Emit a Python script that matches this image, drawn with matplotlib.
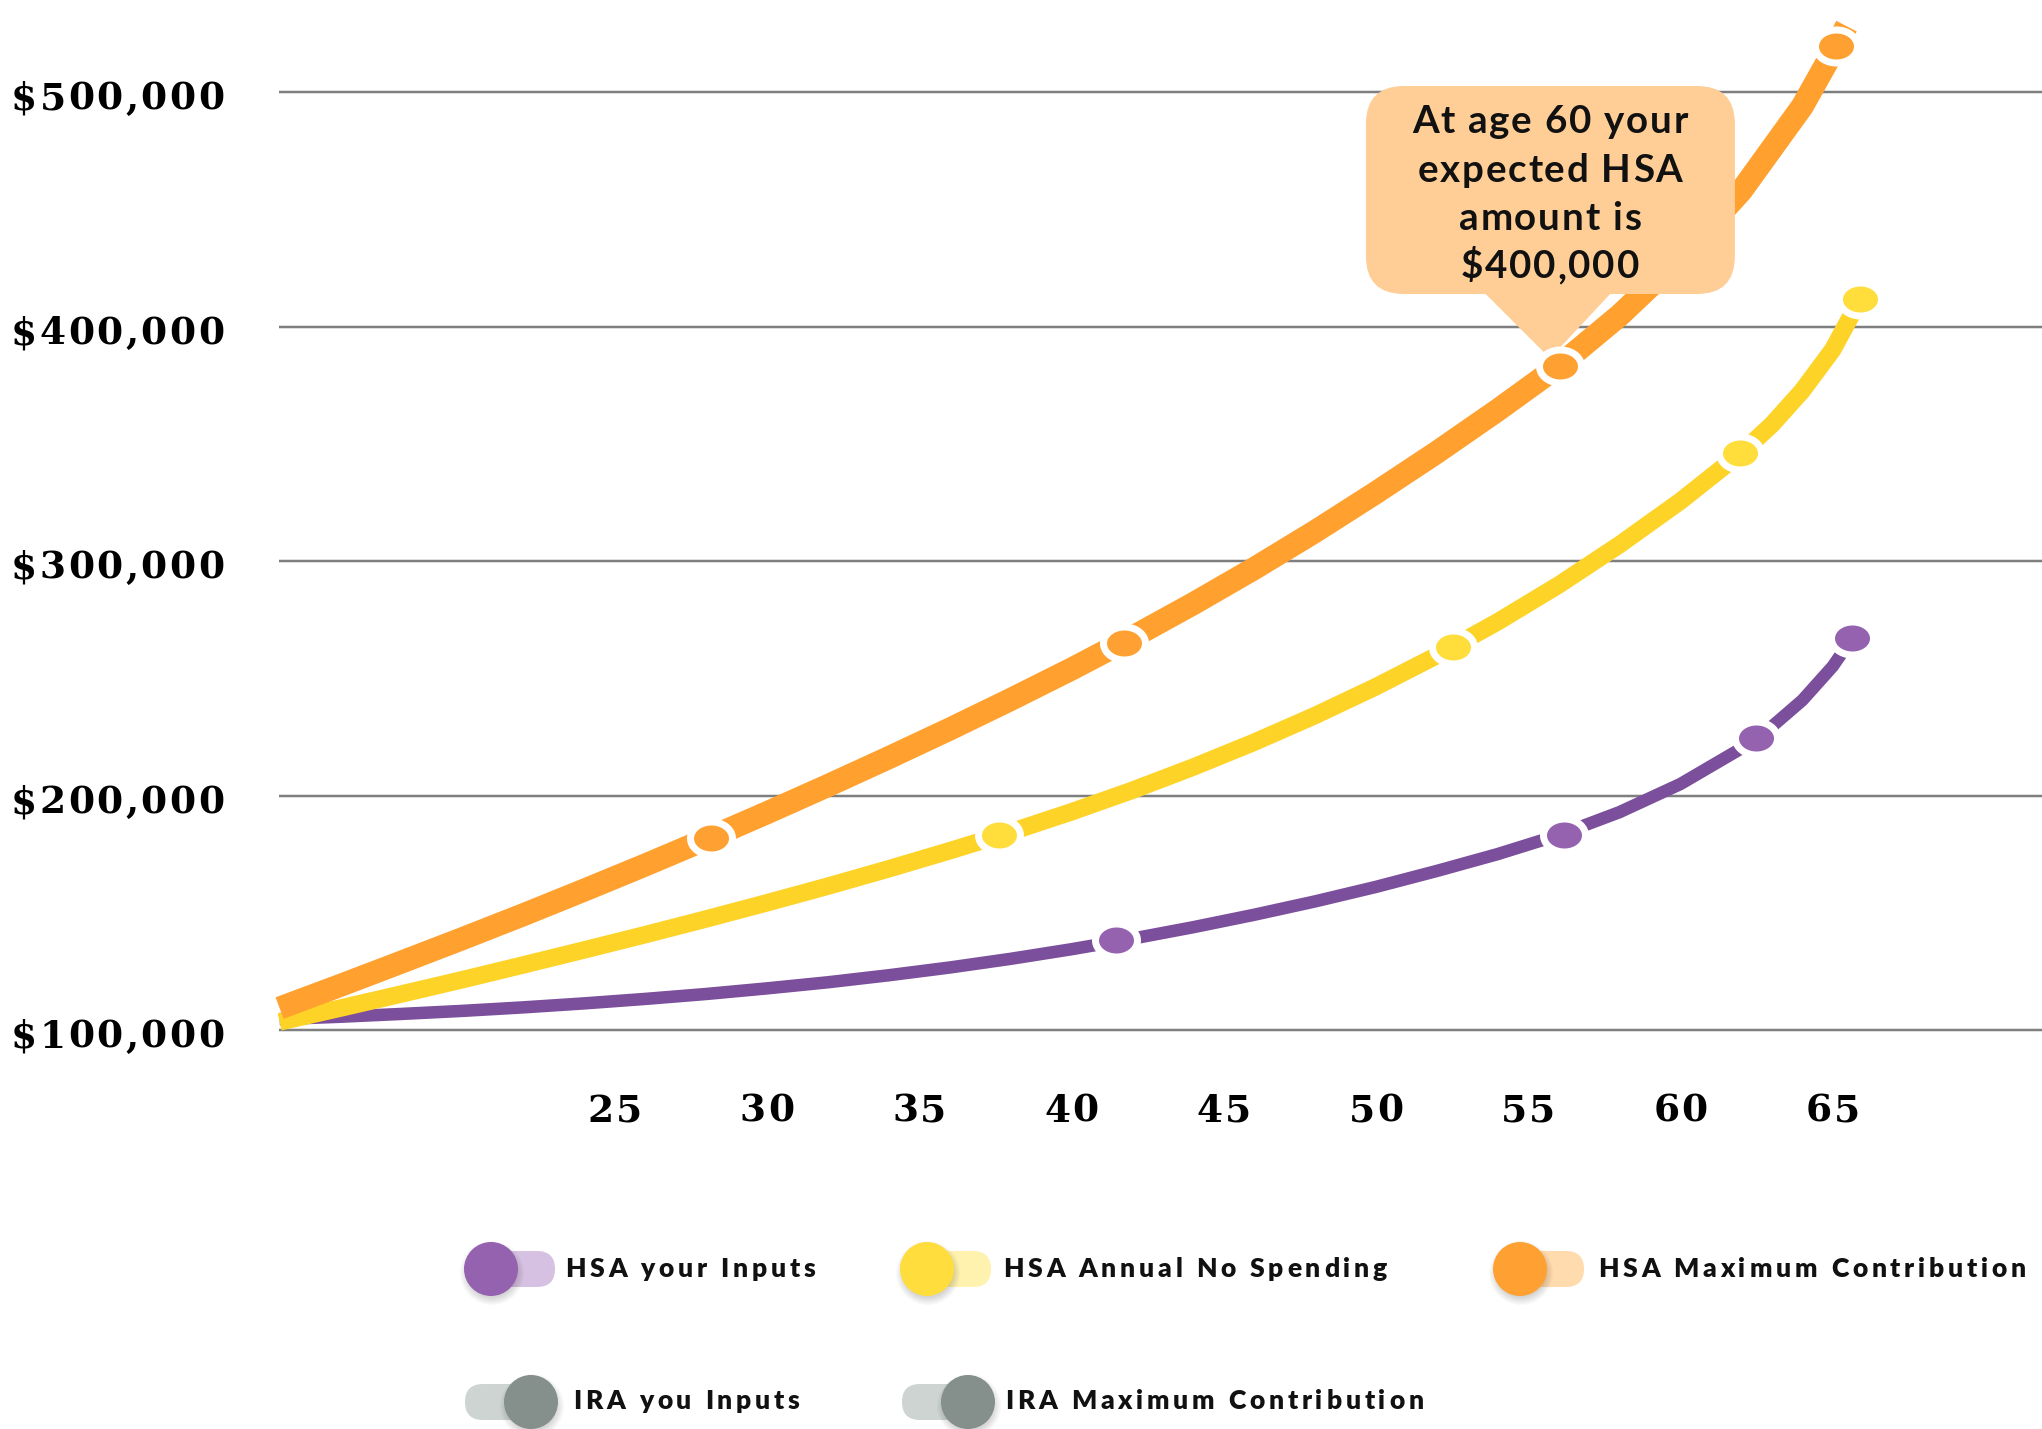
import numpy as np
import matplotlib
matplotlib.use("Agg")
import matplotlib.pyplot as plt
from matplotlib.path import Path
from matplotlib.patches import FancyBboxPatch, Polygon, Circle
from matplotlib.transforms import IdentityTransform
from matplotlib.font_manager import FontProperties, findfont
from matplotlib.ft2font import FT2Font

W, H, DPI = 2042, 1429, 100

# ---------------------------------------------------------------- data (values in $)
# HSA Maximum Contribution
max_age = [14, 16, 18, 20, 22, 24, 26, 28, 30, 32, 34, 36, 38, 40, 42, 44, 46, 48, 50,
           52, 54, 56, 58, 60, 62, 64, 65.11, 65.45]
max_val = [109400, 119100, 129000, 139000, 149200, 159700, 170400, 181400, 192700, 204300,
           216200, 228400, 241000, 254000, 267600, 281900, 296900, 312700, 329300, 346500,
           364500, 383300, 404900, 429500, 458100, 494100, 519800, 528300]
max_mark_age = [28.16, 41.73, 56.04, 65.11]
max_mark_val = [182000, 265100, 383300, 519800]

# HSA Annual No Spending
nospend_age = [14, 16, 18, 20, 22, 24, 26, 28, 30, 32, 34, 36, 38, 40, 42, 44, 46, 48, 50,
               52, 54, 56, 58, 60, 62, 63, 64, 65, 65.9]
nospend_val = [103500, 109400, 115400, 121500, 127800, 134200, 140700, 147400, 154300,
               161400, 168800, 176500, 184500, 193100, 202300, 212200, 222800, 234200,
               246500, 259800, 274200, 289900, 307100, 325700, 346300, 358300, 372800,
               390300, 411900]
nospend_mark_age = [37.62, 52.53, 61.96, 65.9]
nospend_mark_val = [183200, 263400, 346200, 411900]

# HSA your Inputs
inputs_age = [14, 16, 18, 20, 22, 24, 26, 28, 30, 32, 34, 36, 38, 40, 42, 44, 46, 48, 50,
              52, 54, 56, 58, 60, 62, 63, 64, 65, 65.64]
inputs_val = [104700, 105700, 106900, 108200, 109700, 111400, 113300, 115400, 117800,
              120400, 123400, 126700, 130400, 134500, 139000, 143900, 149200, 154900,
              161100, 167900, 175100, 183200, 193000, 205000, 220200, 229500, 240700,
              255200, 267300]
inputs_mark_age = [41.47, 56.17, 62.48, 65.64]
inputs_mark_val = [138400, 183300, 224600, 267300]

y_ticks = [100000, 200000, 300000, 400000, 500000]
x_ticks = [25, 30, 35, 40, 45, 50, 55, 60, 65]

callout_age, callout_val = 56.04, 383300
callout_lines = ["At age 60 your", "expected HSA", "amount is", "$400,000"]

legend_row1 = ["HSA your Inputs", "HSA Annual No Spending", "HSA Maximum Contribution"]
legend_row2 = ["IRA you Inputs", "IRA Maximum Contribution"]

# ---------------------------------------------------------------- style
ORANGE, ORANGE_MK = "#FFA02F", "#FFA132"
YELLOW, YELLOW_MK = "#FDD328", "#FFDD3A"
PURPLE, PURPLE_MK = "#7B4F9B", "#9562AF"
PEACH = "#FECE96"
GRID = "#7F7F7F"

serif = FontProperties(family="DejaVu Serif", weight="bold")
sans = FontProperties(family="Lato", weight="bold")
sans_heavy = FontProperties(family="Lato", weight="heavy")

fig = plt.figure(figsize=(W / DPI, H / DPI), dpi=DPI)
fig.patch.set_facecolor("white")
ax = fig.add_axes([279 / W, 1 - 1040 / H, (W - 279) / W, 1040 / H])
ax.set_xlim(13.98, 71.87)
ax.set_ylim(95780, 539440)
ax.axis("off")

PX = 72.0 / DPI  # points per pixel


def tracked(x, y, s, fp, size_px, tracking=0.0, ha="left", color="black", zorder=5):
    """Draw text at display pixel (x, y baseline) with extra letter spacing."""
    font = FT2Font(findfont(fp))
    font.set_size(size_px, 72)
    adv = [font.load_char(ord(c)).linearHoriAdvance / 65536.0 for c in s]
    total = sum(adv) + tracking * (len(s) - 1)
    if ha == "center":
        pos = x - total / 2
    elif ha == "right":
        pos = x - total
    else:
        pos = x
    for c, a in zip(s, adv):
        if c != " ":
            fig.text(pos, y, c, transform=IdentityTransform(), fontproperties=fp,
                     fontsize=size_px * PX, ha="left", va="baseline", color=color,
                     zorder=zorder)
        pos += a + tracking


# grid
ax.hlines(y_ticks, 13.98, 71.87, colors=GRID, lw=2.5 * PX, zorder=1)

# elliptical markers with a white ring
t = np.linspace(0, 2 * np.pi, 73)
ell = Path(np.column_stack([np.cos(t), 0.786 * np.sin(t)]), closed=True)

series = [
    (inputs_age, inputs_val, inputs_mark_age, inputs_mark_val, PURPLE, PURPLE_MK, 12.5),
    (nospend_age, nospend_val, nospend_mark_age, nospend_mark_val, YELLOW, YELLOW_MK, 17.5),
    (max_age, max_val, max_mark_age, max_mark_val, ORANGE, ORANGE_MK, 23.0),
]
for i, (xa, ya, mx, my, col, mcol, lw) in enumerate(series):
    ax.plot(xa, ya, color=col, lw=lw * PX, solid_capstyle="butt",
            solid_joinstyle="round", zorder=2 + i * 0.1, clip_on=False)
for i, (xa, ya, mx, my, col, mcol, lw) in enumerate(series):
    ax.plot(mx, my, ls="none", marker=ell, ms=42 * PX, mfc=mcol, mec="white",
            mew=7 * PX, zorder=4 + i * 0.1, clip_on=False)

# y tick labels
for v in y_ticks:
    gy = ax.transData.transform((20, v))[1]
    tracked(224, gy - 17.5, "${:,}".format(v), serif, 37.5, tracking=2.5, ha="right")

# x tick labels
for a in x_ticks:
    gx = ax.transData.transform((a, 100000))[0]
    tracked(gx, H - 1121.7, str(a), serif, 37.5, tracking=2.0, ha="center")

# callout bubble
mx_, my_ = ax.transData.transform((callout_age, callout_val))
box = FancyBboxPatch((mx_ - 194, my_ + 72), 369, 208,
                     boxstyle="round,pad=0,rounding_size=38", transform=IdentityTransform(),
                     facecolor=PEACH, edgecolor="none", zorder=3, clip_on=False)
ax.add_patch(box)
tip = Polygon([(mx_ - 72, my_ + 74), (mx_ + 48, my_ + 74), (mx_ - 10, my_ + 12)],
              closed=True, transform=IdentityTransform(), facecolor=PEACH,
              edgecolor=PEACH, lw=6 * PX, joinstyle="round", zorder=3, clip_on=False)
ax.add_patch(tip)
for k, line in enumerate(callout_lines):
    tracked(mx_ - 10, my_ + 232.7 - 48.3 * k, line, sans, 38.5, tracking=1.8,
            ha="center", color="#111111", zorder=6)


# legend toggles
def shadow(cx, cy, r):
    for k in range(7):
        fig.patches.append(Circle((cx + 1, cy - 4), r + 5 - k * 1.2, transform=IdentityTransform(),
                                  facecolor="black", edgecolor="none", alpha=0.025, zorder=1))


def toggle(cx, cy, knob, track, knob_left=True):
    r, th = 27, 36
    if knob_left:
        x0, x1 = cx - 10, cx + 64
    else:
        x0, x1 = cx - 66, cx + 10
    fig.patches.append(FancyBboxPatch((x0, cy - th / 2), x1 - x0, th,
                                      boxstyle="round,pad=0,rounding_size=18",
                                      transform=IdentityTransform(), facecolor=track,
                                      edgecolor="none", zorder=1))
    shadow(cx, cy, r)
    fig.patches.append(Circle((cx, cy), r, transform=IdentityTransform(),
                              facecolor=knob, edgecolor="none", zorder=2))


row1 = [(491, 565, "#9562B0", "#D7C1E2"), (927, 1003, "#FFDD3C", "#FFF1AE"),
        (1520, 1598, "#FFA032", "#FFDBAE")]
for (cx, tx, kc, tc), label in zip(row1, legend_row1):
    toggle(cx, H - 1269, kc, tc, knob_left=True)
    tracked(tx, H - 1277, label, sans_heavy, 26.5, tracking=3.8, color="#111111")

row2 = [(531, 573), (968, 1005)]
for (cx, tx), label in zip(row2, legend_row2):
    toggle(cx, H - 1402, "#858F8C", "#CED4D2", knob_left=False)
    tracked(tx, H - 1409, label, sans_heavy, 26.5, tracking=3.8, color="#111111")

fig.savefig("out.png", dpi=DPI, facecolor="white")
